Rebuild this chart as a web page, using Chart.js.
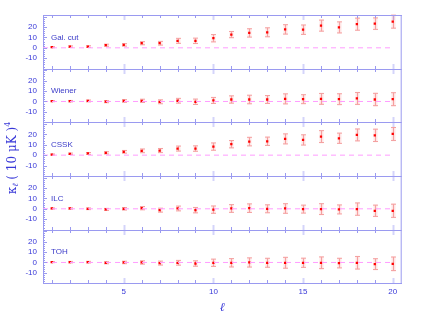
<!DOCTYPE html>
<html>
<head>
<meta charset="utf-8">
<script src="https://cdn.jsdelivr.net/npm/chart.js@4/dist/chart.umd.min.js"></script>
<style>
html, body { margin: 0; padding: 0; background: #fff; }
#wrap { width: 427px; height: 319px; position: relative; }
</style>
</head>
<body>
<div id="wrap"><canvas id="c" width="427" height="319"></canvas></div>
<script>
// multipole l
const ells = [1, 2, 3, 4, 5, 6, 7, 8, 9, 10, 11, 12, 13, 14, 15, 16, 17, 18, 19, 20];
const panelNames = ['Gal. cut', 'Wiener', 'CSSK', 'ILC', 'TOH'];

// kurtosis values per map
const galCut = [0.6, 1.2, 1.2, 2.5, 2.8, 4.4, 4.4, 6.7, 6.7, 9.2, 12.7, 14.3, 14.9, 17.7, 17.4, 21.3, 19.6, 22.7, 23.2, 25.1];
const wiener = [0.3, 0.3, 0.5, -0.2, 0.5, 0.6, -0.3, 0.7, -0.3, 1.0, 1.9, 1.9, 1.9, 2.5, 2.2, 2.5, 2.2, 2.9, 1.9, 2.2];
const cssk   = [0.6, 1.3, 1.6, 2.2, 3.2, 4.1, 4.4, 6.3, 6.3, 8.2, 10.5, 13.0, 13.3, 15.6, 14.6, 17.8, 16.2, 19.4, 19.0, 20.3];
const ilc    = [0.3, 0.3, 0.0, -0.6, 0.0, 0.6, -1.3, 0.3, -1.3, -0.8, 0.3, 0.6, 0.0, 0.3, -0.3, -0.3, -0.6, -0.3, -1.9, -1.9];
const toh    = [0.3, 0.3, 0.3, -0.3, 0.0, 0.0, -0.6, -0.3, -1.0, -0.3, -0.3, 0.0, -0.3, -0.3, -0.3, -0.3, -0.6, -0.3, -1.6, -1.3];

// 1-sigma error bars
const errGal    = [0.5, 0.7, 0.8, 1.0, 1.2, 1.5, 1.8, 2.4, 2.6, 3.5, 3.0, 4.0, 4.3, 4.5, 4.5, 5.3, 5.3, 5.8, 5.5, 6.2];
const errWiener = [0.5, 0.7, 0.9, 1.0, 1.3, 1.6, 1.9, 2.3, 2.6, 2.9, 3.5, 4.1, 3.8, 4.8, 4.3, 5.2, 5.2, 5.7, 5.9, 6.2];
const errCssk   = [0.5, 0.7, 0.9, 1.1, 1.3, 1.8, 2.0, 2.4, 2.6, 3.5, 3.5, 4.1, 4.0, 4.8, 4.9, 5.7, 4.9, 5.7, 5.9, 6.2];
const errIlc    = [0.5, 0.7, 0.8, 1.0, 1.2, 1.6, 1.9, 2.3, 2.6, 3.5, 3.7, 4.1, 3.8, 4.6, 3.8, 5.2, 4.3, 5.9, 5.4, 6.3];
const errToh    = [0.5, 0.7, 0.8, 1.0, 1.2, 1.6, 1.9, 2.3, 2.6, 3.5, 4.0, 4.4, 4.3, 5.2, 4.4, 5.6, 4.6, 6.0, 5.2, 6.5];

const yTicks = [-10, 0, 10, 20];
const xTickLabels = [5, 10, 15, 20];

const panelVals = [galCut, wiener, cssk, ilc, toh];
const panelErrs = [errGal, errWiener, errCssk, errIlc, errToh];

const AXIS = '#9a9af0';
const TXT = '#3838d8';
const FONT = '"Liberation Sans", Arial, sans-serif';

const datasets = [];
const scales = {
    x: {
        type: 'linear', min: 0.5, max: 20.5,
        grid: { display: false, drawTicks: false },
        border: { display: true, color: AXIS, width: 1 },
        afterBuildTicks: s => { s.ticks = xTickLabels.map(v => ({ value: v })); },
        ticks: {
            color: TXT, font: { family: FONT, size: 8 }, padding: 4,
            autoSkip: false, maxRotation: 0
        },
        title: { display: true, text: 'ℓ', color: TXT, font: { family: 'DejaVu Serif', size: 12, style: 'italic' }, padding: { top: 3 } },
        afterFit: s => { s.height = 319 - 283.3; }
    }
};

// stacked scales are laid out bottom-up, so add the lowest panel first
for (let i = panelNames.length - 1; i >= 0; i--) {
    scales['p' + i] = {
        type: 'linear', position: 'left', stack: 'panels', stackWeight: 1,
        min: -20, max: 31.5,
        grid: { display: false, drawTicks: false },
        border: { display: true, color: AXIS, width: 1 },
        afterBuildTicks: s => { s.ticks = yTicks.map(v => ({ value: v })); },
        ticks: { color: TXT, font: { family: FONT, size: 8 }, padding: 6, autoSkip: false },
        afterFit: s => { s.width = 43; }
    };
}

panelNames.forEach((name, i) => {
    const id = 'p' + i;
    datasets.push({
        type: 'line', yAxisID: id,
        data: [{ x: 0.5, y: 0 }, { x: 20, y: 0 }],
        borderColor: '#ff9cff', borderWidth: 1, borderDash: [5, 4],
        pointRadius: 0, showLine: true
    });
    datasets.push({
        type: 'scatter', yAxisID: id,
        data: ells.map((l, k) => ({ x: l, y: panelVals[i][k] })),
        pointStyle: 'rect', pointRadius: 1.6,
        backgroundColor: '#ff0000', borderColor: '#ff0000', borderWidth: 0
    });
});

const decor = {
    id: 'decor',
    beforeDatasetsDraw(chart) {
        const { ctx, scales: sc } = chart;
        const xs = sc.x;
        ctx.save();
        panelVals.forEach((vals, i) => {
            const ys = sc['p' + i];
            vals.forEach((v, k) => {
                const px = Math.round(xs.getPixelForValue(ells[k])) + 0.5;
                const s = panelErrs[i][k];
                const t2 = ys.getPixelForValue(v + s * 1.12), b2 = ys.getPixelForValue(v - s * 1.12);
                ctx.fillStyle = 'rgba(255,190,190,0.4)';
                ctx.fillRect(px - 2, t2, 4, b2 - t2);
                const t = ys.getPixelForValue(v + s), b = ys.getPixelForValue(v - s);
                ctx.strokeStyle = '#f4a0a0';
                ctx.lineWidth = 1;
                ctx.beginPath();
                ctx.moveTo(px, t); ctx.lineTo(px, b);
                ctx.moveTo(px - 2.5, t); ctx.lineTo(px + 2.5, t);
                ctx.moveTo(px - 2.5, b); ctx.lineTo(px + 2.5, b);
                ctx.stroke();
            });
        });
        ctx.restore();
    },
    afterDraw(chart) {
        const { ctx, chartArea: a, scales: sc } = chart;
        const xs = sc.x;
        ctx.save();
        ctx.strokeStyle = AXIS;
        ctx.lineWidth = 1;
        // frame top/right
        ctx.beginPath();
        ctx.moveTo(a.left, a.top + 0.5); ctx.lineTo(a.right, a.top + 0.5);
        ctx.moveTo(a.right - 0.5, a.top); ctx.lineTo(a.right - 0.5, a.bottom);
        ctx.stroke();
        const edges = [];
        panelNames.forEach((n, i) => { const ys = sc['p' + i]; edges.push(ys.top, ys.bottom); });
        const bounds = [...new Set(edges.map(e => Math.round(e)))].sort((p, q) => p - q);
        // separators
        bounds.forEach(yb => {
            ctx.beginPath(); ctx.moveTo(a.left, yb + 0.5); ctx.lineTo(a.right, yb + 0.5); ctx.stroke();
        });
        // x ticks on every boundary
        for (let l = 1; l <= 20; l++) {
            const px = Math.round(xs.getPixelForValue(l)) + 0.5;
            const major = l % 5 === 0;
            const len = major ? 5 : 3;
            ctx.strokeStyle = major ? 'rgba(160,160,245,0.45)' : AXIS;
            ctx.lineWidth = major ? 2 : 1;
            bounds.forEach((yb, j) => {
                ctx.beginPath();
                if (j > 0) { ctx.moveTo(px, yb); ctx.lineTo(px, yb - len); }
                if (j < bounds.length - 1) { ctx.moveTo(px, yb); ctx.lineTo(px, yb + len); }
                ctx.stroke();
            });
        }
        // y ticks on left axis
        ctx.strokeStyle = AXIS; ctx.lineWidth = 1;
        panelNames.forEach((n, i) => {
            const ys = sc['p' + i];
            for (let v = -18; v <= 30; v += 2) {
                const py = Math.round(ys.getPixelForValue(v)) + 0.5;
                const len = v % 10 === 0 ? 4 : 2;
                ctx.beginPath(); ctx.moveTo(a.left, py); ctx.lineTo(a.left + len, py); ctx.stroke();
            }
            // panel label
            ctx.fillStyle = '#3a3ac8';
            ctx.font = '8px ' + FONT;
            ctx.textBaseline = 'middle';
            ctx.textAlign = 'left';
            ctx.fillText(n, xs.getPixelForValue(1) - 1, ys.getPixelForValue(10));
        });
        // y title
        ctx.translate(13, 158);
        ctx.rotate(-Math.PI / 2);
        ctx.fillStyle = TXT;
        ctx.textBaseline = 'middle';
        const p1 = 'κ', p2 = 'ℓ', p3 = ' ( 10 μK )', p4 = '4';
        ctx.font = '12px "DejaVu Serif"';
        const w1 = ctx.measureText(p1).width;
        ctx.font = 'italic 8px "DejaVu Serif"';
        const w2 = ctx.measureText(p2).width;
        ctx.font = '12px "DejaVu Serif"';
        const w3 = ctx.measureText(p3).width;
        ctx.font = '8px "DejaVu Serif"';
        const w4 = ctx.measureText(p4).width;
        let x0 = -(w1 + w2 + w3 + w4) / 2;
        ctx.textAlign = 'left';
        ctx.font = '12px "DejaVu Serif"'; ctx.fillText(p1, x0, 0); x0 += w1;
        ctx.font = 'italic 8px "DejaVu Serif"'; ctx.fillText(p2, x0, 3); x0 += w2;
        ctx.font = '12px "DejaVu Serif"'; ctx.fillText(p3, x0, 0); x0 += w3;
        ctx.font = '8px "DejaVu Serif"'; ctx.fillText(p4, x0, -5);
        ctx.restore();
    }
};

new Chart(document.getElementById('c'), {
    data: { datasets },
    options: {
        responsive: false,
        animation: false,
        layout: { padding: { left: 0, right: 427 - 401.7, top: 15, bottom: 0 } },
        plugins: { legend: { display: false }, tooltip: { enabled: false } },
        scales
    },
    plugins: [decor]
});
</script>
</body>
</html>
